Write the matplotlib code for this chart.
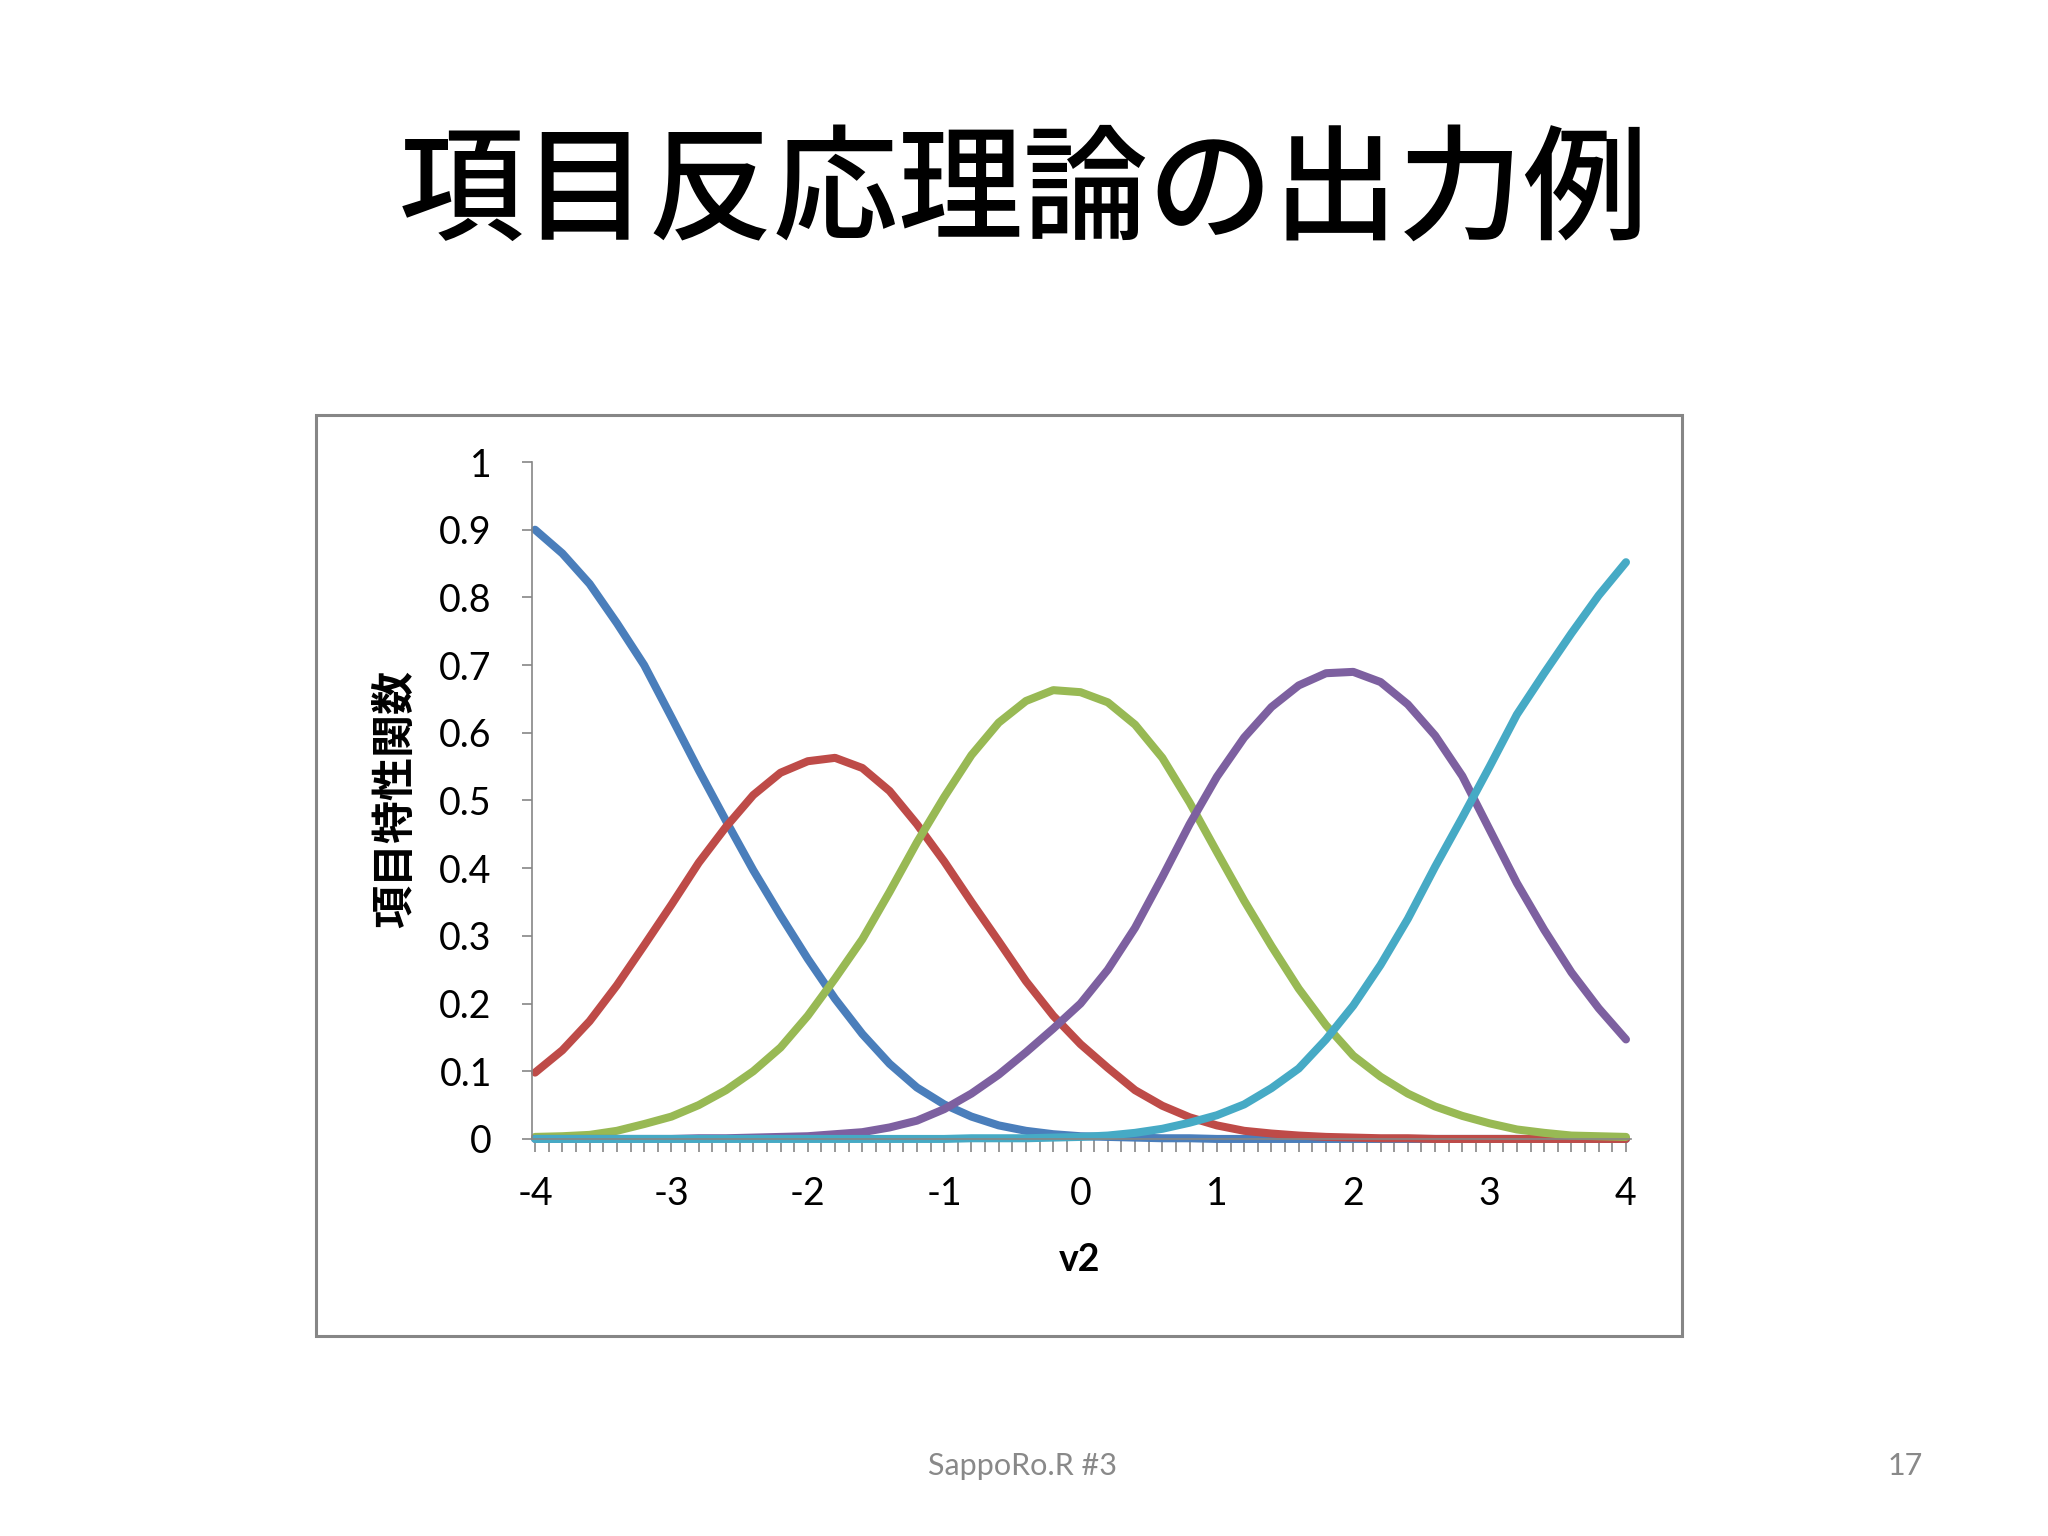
import matplotlib

matplotlib.use("Agg")
import matplotlib.pyplot as plt
import numpy as np
from matplotlib.patches import Rectangle
from matplotlib.ticker import FuncFormatter, MultipleLocator

plt.rcParams["font.family"] = ["Lato", "Noto Sans CJK JP", "DejaVu Sans"]
plt.rcParams["axes.unicode_minus"] = False

# theta grid (step 0.2)
THETA = np.round(np.arange(-4.0, 4.0001, 0.2), 1)

CAT_1 = [0.900, 0.865, 0.820, 0.762, 0.700, 0.623, 0.545, 0.470, 0.397, 0.330,
         0.266, 0.207, 0.155, 0.111, 0.076, 0.051, 0.033, 0.020, 0.012, 0.007,
         0.004, 0.003, 0.002, 0.001, 0.001, 0.0, 0.0, 0.0, 0.0, 0.0,
         0.0, 0.0, 0.0, 0.0, 0.0, 0.0, 0.0, 0.0, 0.0, 0.0, 0.0]
CAT_2 = [0.098, 0.131, 0.174, 0.227, 0.286, 0.346, 0.408, 0.461, 0.508, 0.541,
         0.558, 0.563, 0.548, 0.514, 0.465, 0.410, 0.350, 0.292, 0.233, 0.182,
         0.140, 0.105, 0.072, 0.049, 0.032, 0.020, 0.012, 0.008, 0.005, 0.003,
         0.002, 0.001, 0.001, 0.0, 0.0, 0.0, 0.0, 0.0, 0.0, 0.0, 0.0]
CAT_3 = [0.003, 0.004, 0.006, 0.012, 0.022, 0.033, 0.050, 0.072, 0.100, 0.135,
         0.182, 0.237, 0.295, 0.365, 0.438, 0.505, 0.567, 0.615, 0.647, 0.663,
         0.660, 0.645, 0.612, 0.563, 0.497, 0.424, 0.352, 0.285, 0.222, 0.168,
         0.123, 0.092, 0.067, 0.048, 0.034, 0.023, 0.014, 0.009, 0.005, 0.004, 0.003]
CAT_4 = [0.0, 0.0, 0.0, 0.0, 0.0, 0.0, 0.001, 0.001, 0.002, 0.003,
         0.004, 0.007, 0.010, 0.017, 0.027, 0.044, 0.067, 0.095, 0.128, 0.163,
         0.200, 0.250, 0.312, 0.387, 0.465, 0.535, 0.593, 0.638, 0.670, 0.688,
         0.690, 0.675, 0.642, 0.596, 0.536, 0.457, 0.378, 0.309, 0.246, 0.193, 0.147]
CAT_5 = [0.0, 0.0, 0.0, 0.0, 0.0, 0.0, 0.0, 0.0, 0.0, 0.0,
         0.0, 0.0, 0.0, 0.0, 0.0, 0.0, 0.001, 0.001, 0.001, 0.002,
         0.003, 0.005, 0.009, 0.015, 0.024, 0.035, 0.051, 0.075, 0.104, 0.147,
         0.197, 0.257, 0.325, 0.402, 0.475, 0.550, 0.627, 0.688, 0.747, 0.803, 0.852]

SERIES = [CAT_1, CAT_2, CAT_3, CAT_4, CAT_5]
COLORS = ["#4A7EBB", "#BE4B48", "#98B954", "#7D60A0", "#46AAC5"]

TITLE = "項目反応理論の出力例"
Y_LABEL = "項目特性関数"
X_LABEL = "v2"
FOOTER = "SappoRo.R #3"
PAGE_NO = "17"

AXIS_GRAY = "#868686"
CJK = ["Noto Sans CJK JP", "DejaVu Sans"]

fig = plt.figure(figsize=(20.48, 15.36), dpi=100)

# chart frame (Excel chart area)
fig.patches.append(
    Rectangle((0.1543, 0.1302), 0.667, 0.5996, transform=fig.transFigure,
              fill=False, edgecolor=AXIS_GRAY, linewidth=2.2)
)

ax = fig.add_axes([0.2598, 0.2585, 0.5366, 0.4407])

for values, color in zip(SERIES, COLORS):
    ax.plot(THETA, values, color=color, linewidth=5.8, solid_capstyle="round",
            solid_joinstyle="round", clip_on=False)

ax.set_xlim(-4.022, 4.037)
ax.set_ylim(0, 1)

ax.spines["top"].set_visible(False)
ax.spines["right"].set_visible(False)
for side in ("left", "bottom"):
    ax.spines[side].set_color(AXIS_GRAY)
    ax.spines[side].set_linewidth(1.2)

ax.yaxis.set_major_locator(MultipleLocator(0.1))
ax.yaxis.set_major_formatter(FuncFormatter(lambda v, _: f"{v:g}"))
ax.xaxis.set_major_locator(MultipleLocator(1))
ax.xaxis.set_minor_locator(MultipleLocator(0.1))
ax.xaxis.set_major_formatter(FuncFormatter(lambda v, _: f"{v:g}"))

ax.tick_params(axis="y", which="major", direction="out", length=7, width=1.2,
               color=AXIS_GRAY, labelsize=27, pad=22)
ax.tick_params(axis="x", which="both", direction="out", length=9, width=1.2,
               color=AXIS_GRAY, labelsize=27, pad=18)

fig.text(0.527, 0.1797, X_LABEL, ha="center", va="center", fontsize=27,
         fontweight="bold")
fig.text(0.193, 0.480, Y_LABEL, ha="center", va="center", rotation=90,
         fontsize=31, fontweight="bold", family=CJK)

fig.text(0.5, 0.874, TITLE, ha="center", va="center", fontsize=90,
         fontweight="medium", family=CJK)
fig.text(0.4995, 0.0456, FOOTER, ha="center", va="center", fontsize=22,
         color="#898989")
fig.text(0.939, 0.0456, PAGE_NO, ha="right", va="center", fontsize=22,
         color="#898989")

fig.savefig("out.png", dpi=100)
plt.close(fig)
